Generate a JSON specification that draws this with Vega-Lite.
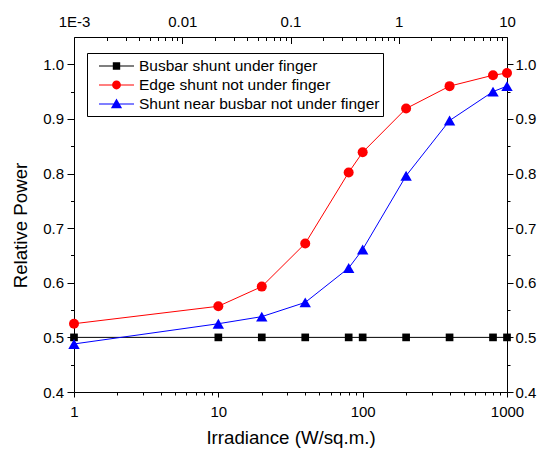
{
  "$schema": "https://vega.github.io/schema/vega-lite/v6.json",
  "width": 433,
  "height": 355,
  "autosize": {"type": "none"},
  "padding": {"left": 74, "top": 37, "right": 30, "bottom": 58},
  "config": {
    "view": {"stroke": null},
    "font": "Liberation Sans",
    "axis": {
      "domainColor": "black", "tickColor": "black", "labelColor": "black", "titleColor": "black",
      "labelFontSize": 15, "titleFontSize": 18.7, "titleFontWeight": "normal", "grid": false,
      "labelFlush": false, "labelOverlap": false, "domainWidth": 1, "tickWidth": 1
    }
  },
  "datasets": {
    "main": [
      {"irr": 1, "power": 0.5, "series": "Busbar shunt under finger"},
      {"irr": 10, "power": 0.5, "series": "Busbar shunt under finger"},
      {"irr": 20, "power": 0.5, "series": "Busbar shunt under finger"},
      {"irr": 40, "power": 0.5, "series": "Busbar shunt under finger"},
      {"irr": 80, "power": 0.5, "series": "Busbar shunt under finger"},
      {"irr": 100, "power": 0.5, "series": "Busbar shunt under finger"},
      {"irr": 200, "power": 0.5, "series": "Busbar shunt under finger"},
      {"irr": 400, "power": 0.5, "series": "Busbar shunt under finger"},
      {"irr": 800, "power": 0.5, "series": "Busbar shunt under finger"},
      {"irr": 1000, "power": 0.5, "series": "Busbar shunt under finger"},
      {"irr": 1, "power": 0.525, "series": "Edge shunt not under finger"},
      {"irr": 10, "power": 0.557, "series": "Edge shunt not under finger"},
      {"irr": 20, "power": 0.593, "series": "Edge shunt not under finger"},
      {"irr": 40, "power": 0.672, "series": "Edge shunt not under finger"},
      {"irr": 80, "power": 0.802, "series": "Edge shunt not under finger"},
      {"irr": 100, "power": 0.839, "series": "Edge shunt not under finger"},
      {"irr": 200, "power": 0.919, "series": "Edge shunt not under finger"},
      {"irr": 400, "power": 0.96, "series": "Edge shunt not under finger"},
      {"irr": 800, "power": 0.98, "series": "Edge shunt not under finger"},
      {"irr": 1000, "power": 0.984, "series": "Edge shunt not under finger"},
      {"irr": 1, "power": 0.488, "series": "Shunt near busbar not under finger"},
      {"irr": 10, "power": 0.525, "series": "Shunt near busbar not under finger"},
      {"irr": 20, "power": 0.538, "series": "Shunt near busbar not under finger"},
      {"irr": 40, "power": 0.564, "series": "Shunt near busbar not under finger"},
      {"irr": 80, "power": 0.627, "series": "Shunt near busbar not under finger"},
      {"irr": 100, "power": 0.661, "series": "Shunt near busbar not under finger"},
      {"irr": 200, "power": 0.796, "series": "Shunt near busbar not under finger"},
      {"irr": 400, "power": 0.897, "series": "Shunt near busbar not under finger"},
      {"irr": 800, "power": 0.95, "series": "Shunt near busbar not under finger"},
      {"irr": 1000, "power": 0.96, "series": "Shunt near busbar not under finger"}
    ],
    "topaxis": [{"t": 0.001, "v": 0.5}, {"t": 10, "v": 0.5}]
  },
  "layer": [
    {
      "layer": [
        {
          "data": {"name": "main"},
          "encoding": {
            "x": {
              "field": "irr", "type": "quantitative",
              "scale": {"type": "log", "domain": [1, 1000], "nice": false},
              "axis": {
                "orient": "bottom", "values": [1, 10, 100, 1000], "format": "d",
                "tickSize": 5, "labelPadding": 7,
                "title": "Irradiance (W/sq.m.)",
                "titleX": 216.5, "titleY": 51, "titleBaseline": "alphabetic", "titleAlign": "center"
              }
            },
            "y": {
              "field": "power", "type": "quantitative",
              "scale": {"domain": [0.4, 1.05], "nice": false, "zero": false},
              "axis": {
                "orient": "left", "values": [0.4, 0.5, 0.6, 0.7, 0.8, 0.9, 1.0], "format": ".1f",
                "tickSize": 7, "labelPadding": 3.5,
                "title": "Relative Power",
                "titleX": -54, "titleY": 188, "titleAngle": 270, "titleBaseline": "middle", "titleAlign": "center"
              }
            }
          },
          "layer": [
            {
              "transform": [{"filter": "datum.series === 'Busbar shunt under finger'"}],
              "mark": {"type": "line", "strokeWidth": 1, "color": "#000000"}
            },
            {
              "transform": [{"filter": "datum.series === 'Edge shunt not under finger'"}],
              "mark": {"type": "line", "strokeWidth": 1, "color": "#ff0000"}
            },
            {
              "transform": [{"filter": "datum.series === 'Shunt near busbar not under finger'"}],
              "mark": {"type": "line", "strokeWidth": 1, "color": "#0000ff"}
            },
            {
              "transform": [{"filter": "datum.series === 'Busbar shunt under finger'"}],
              "mark": {"type": "point", "shape": "square", "filled": true, "color": "#000000", "size": 59, "opacity": 1}
            },
            {
              "transform": [{"filter": "datum.series === 'Edge shunt not under finger'"}],
              "mark": {"type": "point", "shape": "circle", "filled": true, "color": "#ff0000", "size": 100, "opacity": 1}
            },
            {
              "transform": [{"filter": "datum.series === 'Shunt near busbar not under finger'"}],
              "mark": {"type": "point", "shape": "triangle-up", "filled": true, "color": "#0000ff", "size": 130, "opacity": 1}
            },
            {
              "transform": [{"filter": "datum.irr === 1"}],
              "mark": {"type": "point", "filled": true, "opacity": 0},
              "encoding": {
                "color": {
                  "field": "series", "type": "nominal",
                  "scale": {"domain": ["Busbar shunt under finger", "Edge shunt not under finger", "Shunt near busbar not under finger"], "range": ["#000000", "#ff0000", "#0000ff"]},
                  "legend": {
                    "title": null, "orient": "none", "legendX": 13, "legendY": 16, "strokeColor": "black", "fillColor": "white",
                    "padding": 3, "symbolSize": 400, "symbolOffset": 16.5, "labelOffset": 12.5, "labelFontSize": 15.5,
                    "labelColor": "black", "rowPadding": 0, "symbolStrokeWidth": 0, "symbolOpacity": 1, "labelLimit": 400
                  }
                },
                "shape": {
                  "field": "series", "type": "nominal",
                  "scale": {
                    "domain": ["Busbar shunt under finger", "Edge shunt not under finger", "Shunt near busbar not under finger"],
                    "range": [
                      "M-1.75,-0.05H1.75V0.05H-1.75ZM-0.37,-0.37H0.37V0.37H-0.37Z",
                      "M-1.75,-0.05H1.75V0.05H-1.75ZM0.44,0A0.44,0.44,0,1,1,-0.44,0A0.44,0.44,0,1,1,0.44,0Z",
                      "M-1.75,-0.05H1.75V0.05H-1.75ZM0,-0.55L0.56,0.42L-0.56,0.42Z"
                    ]
                  },
                  "legend": {
                    "title": null, "orient": "none", "legendX": 13, "legendY": 16, "strokeColor": "black", "fillColor": "white",
                    "padding": 3, "symbolSize": 400, "symbolOffset": 16.5, "labelOffset": 12.5, "labelFontSize": 15.5,
                    "labelColor": "black", "rowPadding": 0, "symbolStrokeWidth": 0, "symbolOpacity": 1, "labelLimit": 400
                  }
                }
              }
            }
          ]
        },
        {
          "data": {"name": "main"},
          "mark": {"type": "point", "opacity": 0},
          "encoding": {
            "x": {
              "field": "irr", "type": "quantitative",
              "scale": {"type": "log", "domain": [1, 1000], "nice": false},
              "axis": {
                "orient": "bottom", "values": [2, 3, 4, 5, 6, 7, 8, 9, 20, 30, 40, 50, 60, 70, 80, 90, 200, 300, 400, 500, 600, 700, 800, 900],
                "tickSize": 3, "labels": false, "domain": false, "title": null
              }
            },
            "y": {
              "field": "power", "type": "quantitative",
              "scale": {"domain": [0.4, 1.05], "nice": false, "zero": false},
              "axis": {
                "orient": "left", "values": [0.45, 0.55, 0.65, 0.75, 0.85, 0.95],
                "tickSize": 3.5, "labels": false, "domain": false, "title": null
              }
            }
          }
        }
      ],
      "resolve": {"axis": {"x": "independent", "y": "independent"}}
    },
    {
      "data": {"name": "topaxis"},
      "layer": [
        {
          "mark": {"type": "point", "opacity": 0},
          "encoding": {
            "x": {
              "field": "t", "type": "quantitative",
              "scale": {"type": "log", "domain": [0.001, 10], "nice": false},
              "axis": {
                "orient": "top", "values": [0.001, 0.01, 0.1, 1, 10],
                "labelExpr": "datum.value < 0.005 ? '1E-3' : datum.value < 0.05 ? '0.01' : datum.value < 0.5 ? '0.1' : datum.value < 5 ? '1' : '10'",
                "tickSize": -6.5, "labelPadding": 17.5, "labelBaseline": "alphabetic", "title": null
              }
            },
            "y": {
              "field": "v", "type": "quantitative",
              "scale": {"domain": [0.4, 1.05], "nice": false, "zero": false},
              "axis": {
                "orient": "right", "values": [0.4, 0.5, 0.6, 0.7, 0.8, 0.9, 1.0], "format": ".1f",
                "tickSize": 6, "labelPadding": 2, "title": null
              }
            }
          }
        },
        {
          "mark": {"type": "point", "opacity": 0},
          "encoding": {
            "x": {
              "field": "t", "type": "quantitative",
              "scale": {"type": "log", "domain": [0.001, 10], "nice": false},
              "axis": {
                "orient": "top",
                "values": [0.002, 0.003, 0.004, 0.005, 0.006, 0.007, 0.008, 0.009, 0.02, 0.03, 0.04, 0.05, 0.06, 0.07, 0.08, 0.09, 0.2, 0.3, 0.4, 0.5, 0.6, 0.7, 0.8, 0.9, 2, 3, 4, 5, 6, 7, 8, 9],
                "tickSize": -3.5, "labels": false, "domain": false, "title": null
              }
            },
            "y": {
              "field": "v", "type": "quantitative",
              "scale": {"domain": [0.4, 1.05], "nice": false, "zero": false},
              "axis": {
                "orient": "right", "values": [0.45, 0.55, 0.65, 0.75, 0.85, 0.95],
                "tickSize": 3, "labels": false, "domain": false, "title": null
              }
            }
          }
        }
      ],
      "resolve": {"axis": {"x": "independent", "y": "independent"}}
    }
  ],
  "resolve": {"scale": {"x": "independent"}, "axis": {"x": "independent", "y": "independent"}}
}
